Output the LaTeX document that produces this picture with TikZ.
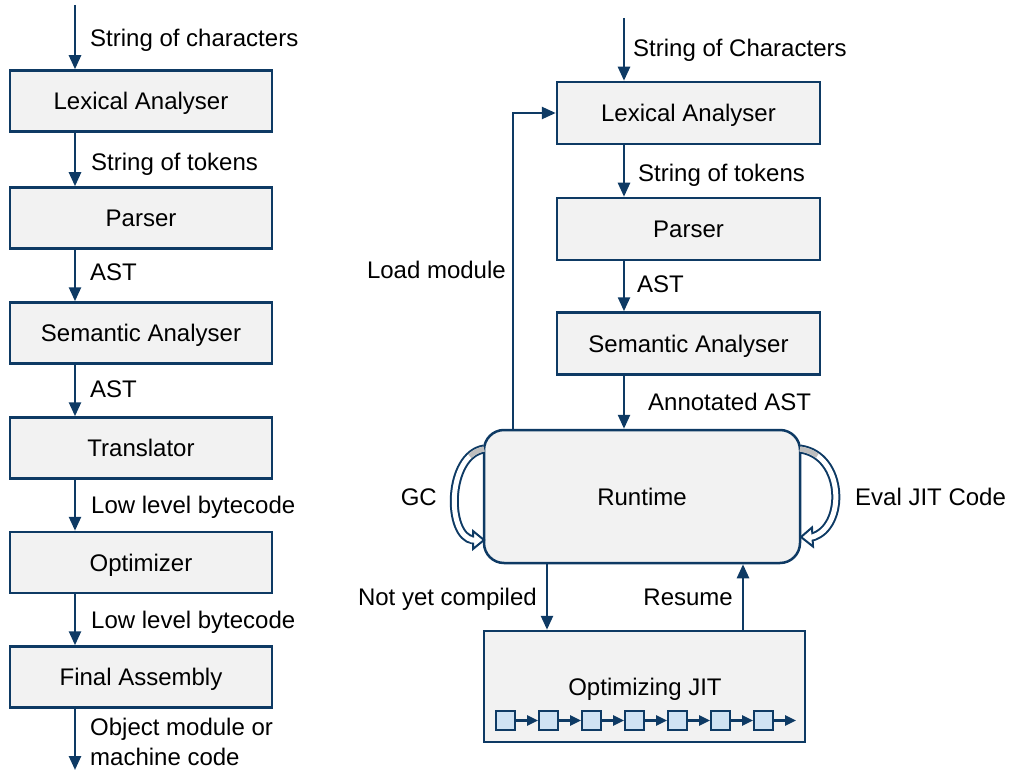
\documentclass[tikz,border=0pt]{standalone}
\usepackage{fontspec}
\setmainfont{Liberation Sans}
\usetikzlibrary{arrows.meta}
\definecolor{navy}{RGB}{14,58,100}
\definecolor{boxfill}{RGB}{242,242,242}
\definecolor{sqfill}{RGB}{207,226,243}
\definecolor{bandgray}{RGB}{190,190,190}
\begin{document}
\begin{tikzpicture}[x=1pt,y=-1pt,
  every node/.style={font=\fontsize{24}{27}\selectfont},
  txt/.style={text height=17pt, text depth=0pt},
  box/.style={txt, draw=navy, line width=2.5pt, fill=boxfill, minimum width=262pt, minimum height=61pt, inner sep=0pt},
  rbox/.style={box, minimum width=263pt, minimum height=62pt},
  lbl/.style={txt, anchor=west, inner sep=0pt},
  rlbl/.style={txt, anchor=east, inner sep=0pt},
  arr/.style={draw=navy, line width=2.5pt, -{Triangle[length=14pt,width=12pt]}},
  sq/.style={draw=navy, line width=2pt, fill=sqfill, minimum size=19pt, inner sep=0pt},
  sarr/.style={draw=navy, line width=2.5pt, -{Triangle[length=11pt,width=10pt]}},
  bandout/.style={navy, line width=9pt},
  bandin/.style={white, line width=5pt},
  bandstart/.style={bandgray, line width=5pt},
  openhead/.style={navy, line width=2pt, fill=white, line join=miter}]
\useasboundingbox (0,0) rectangle (1009,770);
% left column
\coordinate (lx) at (75,0);
\coordinate (ltop) at (75,5);
\coordinate (lbot) at (75,770);
\node[box] (lex1) at (141,101) {Lexical Analyser};
\node[box] (par1) at (141,218) {Parser};
\node[box] (sem1) at (141,333) {Semantic Analyser};
\node[box] (tra1) at (141,448) {Translator};
\node[box] (opt1) at (141,562.5) {Optimizer};
\node[box] (fin1) at (141,677) {Final Assembly};
\draw[arr] (ltop) -- (lex1.north -| lx);
\draw[arr] (lex1.south -| lx) -- (par1.north -| lx);
\draw[arr] (par1.south -| lx) -- (sem1.north -| lx);
\draw[arr] (sem1.south -| lx) -- (tra1.north -| lx);
\draw[arr] (tra1.south -| lx) -- (opt1.north -| lx);
\draw[arr] (opt1.south -| lx) -- (fin1.north -| lx);
\draw[arr] (fin1.south -| lx) -- (lbot);
\node[lbl] (t1) at (90,38) {String of characters};
\node[lbl] (t2) at (91,162) {String of tokens};
\node[lbl] (t3) at (90,272) {AST};
\node[lbl] (t4) at (90,389) {AST};
\node[lbl] (t5) at (91,505) {Low level bytecode};
\node[lbl] (t6) at (91,620) {Low level bytecode};
\node[lbl] (t7) at (90,727) {Object module or};
\node[lbl] (t8) at (90,757) {machine code};
% right column
\coordinate (rx) at (624,0);
\coordinate (rtop) at (624,18);
\node[rbox] (lex2) at (688.5,113) {Lexical Analyser};
\node[rbox] (par2) at (688.5,229) {Parser};
\node[rbox] (sem2) at (688.5,343.5) {Semantic Analyser};
\node[txt, draw=navy, line width=2.5pt, fill=boxfill, rounded corners=20pt, minimum width=316pt, minimum height=133pt, inner sep=0pt] (rt) at (642,496.5) {Runtime};
\node[draw=navy, line width=2.5pt, fill=boxfill, minimum width=321pt, minimum height=111pt, inner sep=0pt] (jit) at (644.5,686.5) {};
\node[txt, inner sep=0pt] (jitl) at (645,687) {Optimizing JIT};
\draw[arr] (rtop) -- (lex2.north -| rx);
\draw[arr] (lex2.south -| rx) -- (par2.north -| rx);
\draw[arr] (par2.south -| rx) -- (sem2.north -| rx);
\draw[arr] (sem2.south -| rx) -- (rt.north -| rx);
\coordinate (lmx) at (513,0);
\draw[arr] (rt.north -| lmx) |- (lex2.west);
\coordinate (nx) at (547,0);
\coordinate (rsx) at (743,0);
\draw[arr] (rt.south -| nx) -- (jit.north -| nx);
\draw[arr] (jit.north -| rsx) -- (rt.south -| rsx);
\node[lbl] (s1) at (633,48) {String of Characters};
\node[lbl] (s2) at (638,173) {String of tokens};
\node[lbl] (s3) at (637,284) {AST};
\node[lbl] (s4) at (648,402) {Annotated AST};
\node[rlbl] (s5) at (506,270) {Load module};
\node[rlbl] (s6) at (437,497) {GC};
\node[lbl] (s7) at (855,497) {Eval JIT Code};
\node[rlbl] (s8) at (537,597) {Not yet compiled};
\node[rlbl] (s9) at (733,597) {Resume};
% small squares
\foreach \i/\x in {1/505.5,2/548.5,3/591.5,4/634.5,5/677.5,6/720.5,7/763.5}
  \node[sq] (sq\i) at (\x,720.5) {};
\coordinate (sqend) at (796,720.5);
\foreach \a/\b in {1/2,2/3,3/4,4/5,5/6,6/7}
  \draw[sarr] (sq\a) -- (sq\b);
\draw[sarr] (sq7) -- (sqend);
% GC curved arrow
\draw[bandout] (484,449) .. controls (447,455) and (446,536) .. (473,540);
\draw[bandin] (484,449) .. controls (447,455) and (446,536) .. (473,540);
\draw[bandstart] (484,449) .. controls (478.45,449.9) and (473.72,452.49) .. (469.76,456.24);
\draw[openhead] (473,531) -- (484,540) -- (473,549) -- cycle;
\draw[white, line width=5pt] (470,539.6) -- (475,540.3);
% Eval curved arrow
\draw[bandout] (800,449) .. controls (845,455) and (846,528) .. (812,537);
\draw[bandin] (800,449) .. controls (845,455) and (846,528) .. (812,537);
\draw[bandstart] (800,449) .. controls (806.75,449.9) and (812.51,452.31) .. (817.31,455.77);
\draw[openhead] (812,527.5) -- (801,537) -- (813,546.5) -- cycle;
\draw[white, line width=5pt] (815,536.2) -- (810.5,537.4);
\end{tikzpicture}
\end{document}
